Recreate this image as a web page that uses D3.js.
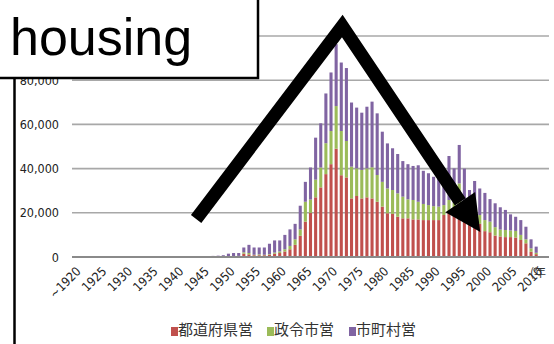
<!DOCTYPE html>
<html>
<head>
<meta charset="utf-8">
<script src="https://cdn.jsdelivr.net/npm/d3@7"></script>
<style>
  html, body { margin: 0; padding: 0; background: #fff; }
  svg { display: block; }
</style>
</head>
<body>
<svg id="chart" width="554" height="344"></svg>
<script>
// Public housing construction by builder, fiscal years 1920-2012 (units)
const years = d3.range(1920, 2013);
const tickYears = [1920, 1925, 1930, 1935, 1940, 1945, 1950, 1955, 1960, 1965,
                   1970, 1975, 1980, 1985, 1990, 1995, 2000, 2005, 2010];
const tickLabels = ["~1920", "1925", "1930", "1935", "1940", "1945", "1950", "1955", "1960", "1965",
                    "1970", "1975", "1980", "1985", "1990", "1995", "2000", "2005", "2010"];
const gridValues = [0, 20000, 40000, 60000, 80000, 100000];
const valueTicks = [0, 20000, 40000, 60000, 80000];

const seriesNames = ["都道府県営", "政令市営", "市町村営"];
const seriesColors = ["#c0504d", "#9bbb59", "#8064a2"];

// 都道府県営 (prefectural)
const prefectural = [
  0, 0, 0, 0, 0, 0, 0, 0, 0, 0,
  0, 0, 0, 0, 0, 0, 0, 0, 0, 0,
  0, 0, 0, 0, 0, 0, 0, 0, 100, 100,
  200, 300, 300, 1500, 1200, 800, 800, 800, 1000, 1500,
  1800, 2500, 3500, 5500, 9600, 16000, 20000, 27000, 31500, 37500,
  42000, 49000, 37000, 36000, 26500, 27600, 26500, 27000, 26500, 25000,
  22800, 19800, 19500, 18200, 17500, 17500, 17000, 17000, 16700, 16700,
  16700, 16700, 19000, 20500, 19800, 18200, 17500, 16000, 14000, 15000,
  11700, 11200, 9700, 9300, 9000, 9000, 8800, 7700, 6200, 2400,
  1300, 0, 0
];
// 政令市営 (designated cities)
const designatedCity = [
  0, 0, 0, 0, 0, 0, 0, 0, 0, 0,
  0, 0, 0, 0, 0, 0, 0, 0, 0, 0,
  0, 0, 0, 0, 0, 0, 0, 0, 0, 0,
  100, 100, 200, 600, 600, 200, 400, 200, 300, 500,
  700, 1000, 1500, 2500, 2900, 9000, 6000, 8000, 9000, 14000,
  15000, 19300, 20000, 16500, 14400, 12500, 12900, 13100, 14100, 12100,
  11200, 11200, 10800, 10600, 9800, 8600, 8800, 8000, 7300, 6800,
  6300, 6100, 4500, 5300, 4700, 15100, 6500, 5000, 5500, 4000,
  5000, 4800, 3800, 3100, 3200, 3000, 3000, 2300, 1800, 1500,
  600, 0, 0
];
// 市町村営 (municipal)
const municipal = [
  0, 0, 0, 0, 0, 0, 0, 0, 0, 0,
  0, 0, 0, 0, 0, 0, 0, 0, 0, 0,
  0, 0, 0, 0, 0, 300, 400, 500, 500, 700,
  1200, 1400, 1300, 2200, 3700, 3300, 3100, 3300, 4700, 5500,
  5000, 6500, 7500, 7000, 10700, 9000, 14500, 19000, 20000, 22500,
  26500, 28000, 31000, 33000, 29000, 27500, 25900, 27900, 29700, 27900,
  22700, 20400, 18900, 17800, 16100, 15900, 15400, 16500, 15000, 14400,
  13300, 12800, 14400, 19900, 15600, 17400, 16000, 9300, 14900, 12000,
  12300, 10200, 10800, 10100, 9100, 7300, 6400, 6700, 5700, 4100,
  2800, 0, 0
];

// Trend arrow drawn over the bars, in (year, units) space
const trendPath = [[1943.7, 17200], [1972.2, 104500], [1995.2, 24900]];
const trendHead = [[1999.1, 11300], [1992.3, 20300], [1998.1, 29400]];

const svg = d3.select("#chart");
const W = 554, H = 344;
svg.append("rect").attr("width", W).attr("height", H).attr("fill", "#fff");

const plot = { left: 72, right: 549, top: 36, bottom: 257 };
const labelFont = "'Liberation Sans Narrow', 'DejaVu Sans Condensed', 'Liberation Sans', sans-serif";
const cjkFont = "'Noto Sans CJK JP', 'Noto Sans CJK SC', sans-serif";

const x = d3.scaleBand().domain(years)
  .range([plot.left, plot.right]).paddingInner(0.4).paddingOuter(0.2);
const y = d3.scaleLinear().domain([0, 100000]).range([plot.bottom, plot.top]);
const yearX = d3.scaleLinear()
  .domain([years[0], years[years.length - 1]])
  .range([x(years[0]) + x.bandwidth() / 2, x(years[years.length - 1]) + x.bandwidth() / 2]);
const fmt = d3.format(",");

// horizontal gridlines
svg.append("g").selectAll("line").data(gridValues.filter(v => v > 0)).join("line")
  .attr("x1", plot.left).attr("x2", plot.right)
  .attr("y1", d => y(d)).attr("y2", d => y(d))
  .attr("stroke", "#a8a8a8").attr("stroke-width", 1.6);

// value labels
svg.append("g").selectAll("text").data(valueTicks).join("text")
  .attr("x", plot.left - 13).attr("y", d => y(d)).attr("dy", "0.36em")
  .attr("text-anchor", "end")
  .attr("fill", "#222")
  .attr("font-family", labelFont).attr("font-size", 12.5)
  .text(d => fmt(d));

// stacked bars
const rows = years.map((yr, i) => ({
  year: yr, pref: prefectural[i], city: designatedCity[i], muni: municipal[i]
}));
const keys = ["pref", "city", "muni"];
const stack = d3.stack().keys(keys)(rows);
svg.append("g").selectAll("g").data(stack).join("g")
  .attr("fill", (d, i) => seriesColors[i])
  .selectAll("rect").data(d => d).join("rect")
  .attr("x", d => x(d.data.year))
  .attr("width", x.bandwidth())
  .attr("y", d => y(d[1]))
  .attr("height", d => Math.max(0, y(d[0]) - y(d[1])));

// baseline
svg.append("line")
  .attr("x1", plot.left).attr("x2", plot.right)
  .attr("y1", y(0)).attr("y2", y(0))
  .attr("stroke", "#8a8a8a").attr("stroke-width", 2);

// category labels, slanted 45 degrees
svg.append("g").selectAll("text").data(tickYears).join("text")
  .attr("transform", d => `translate(${x(d) + x.bandwidth() / 2 + 4},${y(0) + 12}) rotate(-45)`)
  .attr("text-anchor", "end")
  .attr("dy", "0.35em")
  .attr("fill", "#222")
  .attr("font-family", labelFont).attr("font-size", 12.5)
  .text((d, i) => tickLabels[i]);

svg.append("text")
  .attr("x", 530).attr("y", 277)
  .attr("fill", "#333")
  .attr("font-family", cjkFont).attr("font-size", 12)
  .text("(年");

// legend
const legendX = [171, 267, 349];
const lg = svg.append("g");
seriesNames.forEach((name, i) => {
  lg.append("rect")
    .attr("x", legendX[i]).attr("y", 327)
    .attr("width", 7).attr("height", 9)
    .attr("fill", seriesColors[i]);
  lg.append("text")
    .attr("x", legendX[i] + 7).attr("y", 335)
    .attr("fill", "#333")
    .attr("font-family", cjkFont).attr("font-size", 15)
    .text(name);
});

// trend arrow
const pt = p => [yearX(p[0]), y(p[1])];
svg.append("path")
  .attr("d", d3.line()(trendPath.map(pt)))
  .attr("fill", "none").attr("stroke", "#000")
  .attr("stroke-width", 13).attr("stroke-linejoin", "miter")
  .attr("stroke-linecap", "butt");
svg.append("path")
  .attr("d", d3.line()(trendHead.map(pt)) + "Z")
  .attr("fill", "#000");

// frame line on the left
svg.append("line")
  .attr("x1", 14.5).attr("x2", 14.5).attr("y1", 78).attr("y2", H)
  .attr("stroke", "#000").attr("stroke-width", 2.5);

// title box
svg.append("rect")
  .attr("x", -3).attr("y", -3).attr("width", 261).attr("height", 81)
  .attr("fill", "#fff").attr("stroke", "#000").attr("stroke-width", 2.5);
svg.append("text")
  .attr("x", 10).attr("y", 55)
  .attr("fill", "#000")
  .attr("font-family", "'Liberation Sans', Arial, sans-serif")
  .attr("font-size", 52)
  .text("housing");
</script>
</body>
</html>
